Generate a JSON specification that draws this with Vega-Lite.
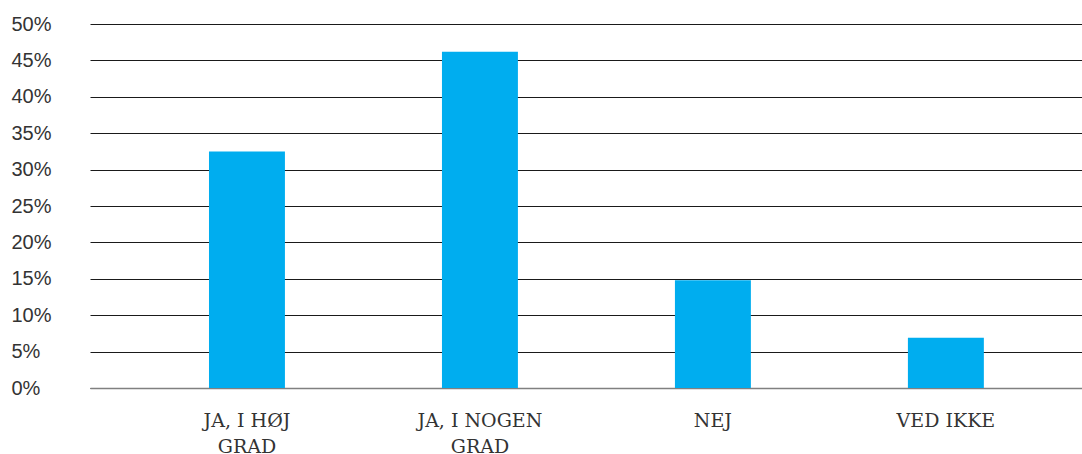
{
  "$schema": "https://vega.github.io/schema/vega-lite/v6.json",
  "autosize": "none",
  "width": 992,
  "height": 364,
  "padding": {"left": 90, "top": 24, "right": 0, "bottom": 66},
  "background": "white",
  "data": {
    "values": [
      {"svar": "JA, I HØJ GRAD", "andel": 0.325},
      {"svar": "JA, I NOGEN GRAD", "andel": 0.462},
      {"svar": "NEJ", "andel": 0.148},
      {"svar": "VED IKKE", "andel": 0.069}
    ]
  },
  "mark": {"type": "bar", "color": "#00ADEF"},
  "encoding": {
    "x": {
      "field": "svar",
      "type": "nominal",
      "sort": null,
      "scale": {"paddingInner": 0.674, "paddingOuter": 0.466, "align": 0.548},
      "axis": {
        "title": null,
        "labelAngle": 0,
        "ticks": false,
        "tickSize": 0,
        "domain": true,
        "domainColor": "#808080",
        "domainWidth": 1.5,
        "labelFont": "DejaVu Serif",
        "labelFontSize": 19,
        "labelColor": "#333333",
        "labelPadding": 23,
        "labelBaseline": "top",
        "labelLineHeight": 26,
        "labelExpr": "datum.label == 'JA, I HØJ GRAD' ? ['JA, I HØJ', 'GRAD'] : datum.label == 'JA, I NOGEN GRAD' ? ['JA, I NOGEN', 'GRAD'] : datum.label"
      }
    },
    "y": {
      "field": "andel",
      "type": "quantitative",
      "scale": {"domain": [0, 0.5], "nice": false},
      "axis": {
        "title": null,
        "values": [0, 0.05, 0.1, 0.15, 0.2, 0.25, 0.3, 0.35, 0.4, 0.45, 0.5],
        "format": ".0%",
        "domain": false,
        "ticks": false,
        "tickSize": 0,
        "grid": true,
        "gridColor": "#1a1a1a",
        "gridWidth": 1,
        "labelFont": "Liberation Sans",
        "labelFontSize": 20,
        "labelColor": "#333333",
        "labelAlign": "left",
        "labelPadding": 79
      }
    }
  },
  "config": {"view": {"stroke": null}}
}
